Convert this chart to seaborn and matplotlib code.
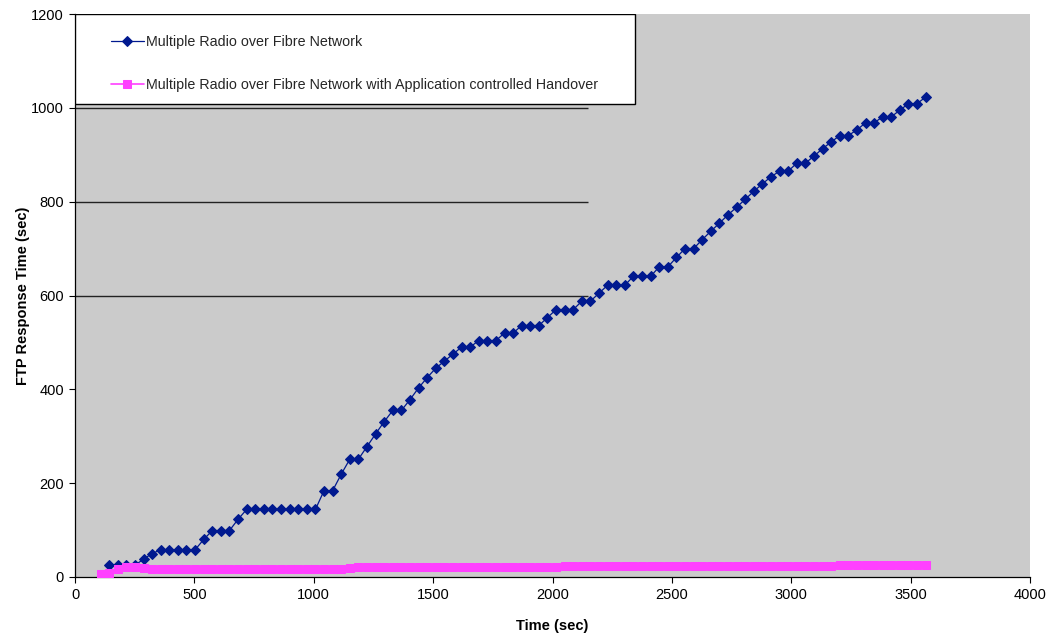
import matplotlib
matplotlib.use('Agg')
import matplotlib.pyplot as plt
from matplotlib.patches import Rectangle
import seaborn as sns

sns.set_theme(style='ticks')
plt.rcParams['font.family'] = ['Liberation Sans', 'DejaVu Sans']

### Data
label_mrof = 'Multiple Radio over Fibre Network'
label_ach = 'Multiple Radio over Fibre Network with Application controlled Handover'

mrof_time = [143, 179, 215, 251, 287, 323, 359, 395, 431, 467,
             503, 539, 575, 611, 647, 683, 719, 755, 791, 827,
             863, 899, 935, 971, 1007, 1043, 1079, 1115, 1151, 1187,
             1223, 1259, 1295, 1331, 1367, 1403, 1439, 1475, 1511, 1547,
             1583, 1619, 1655, 1691, 1727, 1763, 1799, 1835, 1871, 1907,
             1943, 1979, 2015, 2051, 2087, 2123, 2159, 2195, 2231, 2267,
             2303, 2339, 2375, 2411, 2447, 2483, 2519, 2555, 2591, 2627,
             2663, 2699, 2735, 2771, 2807, 2843, 2879, 2915, 2951, 2987,
             3023, 3059, 3095, 3131, 3167, 3203, 3239, 3275, 3311, 3347,
             3383, 3419, 3455, 3491, 3527, 3563]
mrof_resp = [25, 25, 25, 25, 38, 50, 58, 58, 58, 58,
             58, 80, 99, 99, 99, 123, 144, 144, 144, 144,
             144, 144, 144, 144, 144, 184, 184, 219, 251, 251,
             278, 305, 331, 355, 355, 378, 403, 425, 445, 460,
             475, 490, 490, 504, 504, 504, 520, 520, 536, 536,
             536, 553, 570, 570, 570, 588, 588, 605, 622, 622,
             622, 641, 641, 641, 661, 661, 681, 700, 700, 719,
             737, 754, 772, 788, 805, 822, 838, 853, 865, 865,
             882, 882, 897, 913, 927, 941, 941, 953, 968, 968,
             981, 981, 995, 1009, 1009, 1023]

ach_time = [107, 143, 179, 215, 251, 287, 323, 359, 395, 431, 467,
            503, 539, 575, 611, 647, 683, 719, 755, 791, 827,
            863, 899, 935, 971, 1007, 1043, 1079, 1115, 1151, 1187,
            1223, 1259, 1295, 1331, 1367, 1403, 1439, 1475, 1511, 1547,
            1583, 1619, 1655, 1691, 1727, 1763, 1799, 1835, 1871, 1907,
            1943, 1979, 2015, 2051, 2087, 2123, 2159, 2195, 2231, 2267,
            2303, 2339, 2375, 2411, 2447, 2483, 2519, 2555, 2591, 2627,
            2663, 2699, 2735, 2771, 2807, 2843, 2879, 2915, 2951, 2987,
            3023, 3059, 3095, 3131, 3167, 3203, 3239, 3275, 3311, 3347,
            3383, 3419, 3455, 3491, 3527, 3563]
ach_resp = [6, 9, 16, 22, 22, 20, 18, 18, 18, 18,
            18, 18, 18, 18, 18, 18, 18, 18, 18, 18,
            18, 18, 18, 17, 17, 17, 17, 18, 18, 20,
            21, 21, 21, 21, 21, 21, 21, 21, 22, 22,
            22, 22, 22, 22, 22, 22, 22, 22, 22, 22,
            22, 22, 22, 22, 23, 23, 23, 23, 23, 23,
            23, 24, 24, 24, 24, 24, 24, 24, 24, 24,
            24, 24, 24, 24, 24, 24, 24, 24, 24, 24,
            24, 24, 24, 24, 24, 24, 25, 25, 25, 25,
            25, 25, 25, 25, 25, 25, 25]

x_ticks = [0, 500, 1000, 1500, 2000, 2500, 3000, 3500, 4000]
y_ticks = [0, 200, 400, 600, 800, 1000, 1200]
grid_levels = [600, 800, 1000, 1200]

### Plot
W, H = 1050, 635
fig = plt.figure(figsize=(W / 100, H / 100), dpi=100)
ax = fig.add_axes([75 / W, 1 - 577 / H, 955 / W, 563 / H])
ax.set_facecolor('#CBCBCB')

# partial gridlines as in the original export
ax.hlines(grid_levels, 0, 2150, color='#222222', linewidth=1.0, zorder=1)

sns.lineplot(x=mrof_time, y=mrof_resp, ax=ax, color='#00198F', marker='D',
             markersize=4.6, markeredgecolor='#00198F', linewidth=0.9,
             label=label_mrof, zorder=3)
sns.lineplot(x=ach_time, y=ach_resp, ax=ax, color='#FF40FF', marker='s',
             markersize=6.2, markeredgecolor='#FF40FF', linewidth=1.2,
             label=label_ach, zorder=4)

ax.set_xlim(0, 4000)
ax.set_ylim(0, 1200)
ax.set_xticks(x_ticks)
ax.set_yticks(y_ticks)
ax.tick_params(axis='both', labelsize=10.5, length=4, width=0.8, color='black',
               labelcolor='black', pad=4)
for side in ['top', 'right']:
    ax.spines[side].set_visible(False)
for side in ['left', 'bottom']:
    ax.spines[side].set_color('black')
    ax.spines[side].set_linewidth(0.9)

ax.set_xlabel('Time (sec)', fontsize=10.5, fontweight='bold', color='black', labelpad=12)
ax.set_ylabel('FTP Response Time (sec)', fontsize=10.5, fontweight='bold', color='black', labelpad=1)

# legend box
box = Rectangle((0, 1 - 90 / 563), 560 / 955, 90 / 563, transform=ax.transAxes,
                facecolor='white', edgecolor='black', linewidth=1.0, zorder=5)
ax.add_patch(box)
handles, labels = ax.get_legend_handles_labels()
leg = ax.legend(handles, labels, loc='upper left',
                bbox_to_anchor=(111 / W, 1 - 35 / H), bbox_transform=fig.transFigure,
                frameon=False, fontsize=10.3, borderpad=0, borderaxespad=0,
                handlelength=2.3, handletextpad=0.15, labelspacing=2.0)
leg.set_zorder(6)

fig.savefig('out.png', dpi=100)
